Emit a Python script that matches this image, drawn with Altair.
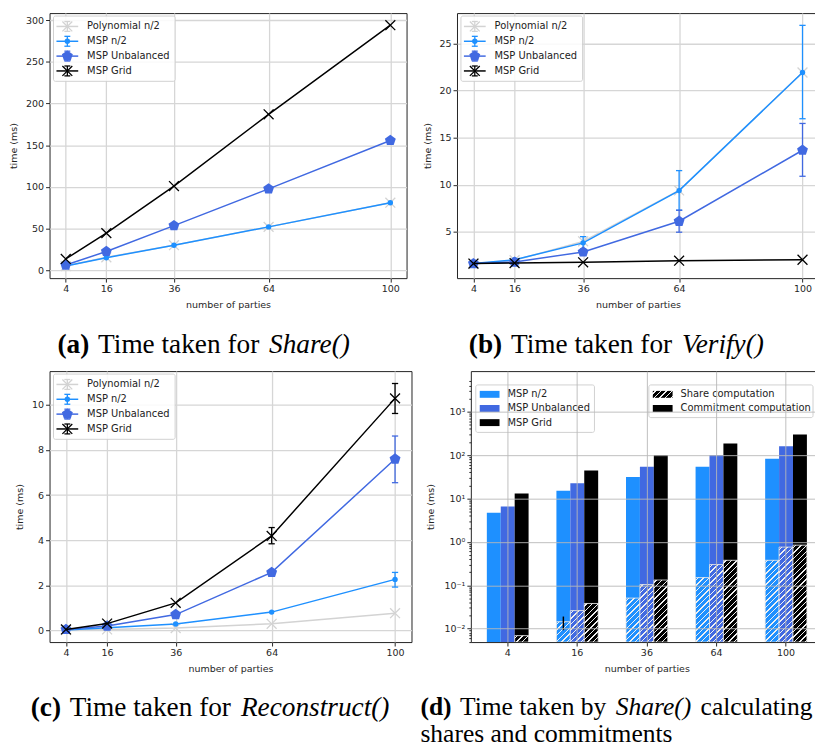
import math
import altair as alt
import pandas as pd

# ---------------- data ----------------
PARTIES = [4, 16, 36, 64, 100]
SERIES = ["Polynomial n/2", "MSP n/2", "MSP Unbalanced", "MSP Grid"]
COLORS = ["#d3d3d3", "#1e90ff", "#4169e1", "#000000"]

# (a) Share()
SHARE_POLY = [5.0, 15.5, 30.0, 52.0, 81.0]
SHARE_N2 = [5.0, 15.0, 30.0, 52.0, 81.0]
SHARE_UNB = [6.2, 22.5, 53.5, 97.6, 155.7]
SHARE_GRID = [13.5, 44.5, 101.0, 187.0, 294.0]

# (b) Verify()
VERIFY_POLY = [1.6, 2.0, 4.0, 9.4, 21.9]
VERIFY_N2 = [1.64, 2.05, 3.84, 9.38, 21.9]
VERIFY_N2_LO = [None, None, 3.2, 7.3, 17.0]
VERIFY_N2_HI = [None, None, 4.5, 11.5, 26.9]
VERIFY_UNB = [1.64, 1.8, 2.88, 6.13, 13.66]
VERIFY_UNB_LO = [None, None, None, 4.97, 10.9]
VERIFY_UNB_HI = [None, None, None, 7.3, 16.5]
VERIFY_GRID = [1.64, 1.7, 1.78, 1.95, 2.05]

# (c) Reconstruct()
RECON_POLY = [0.01, 0.04, 0.10, 0.29, 0.76]
RECON_N2 = [0.02, 0.12, 0.28, 0.81, 2.26]
RECON_N2_LO = [None, None, None, None, 1.92]
RECON_N2_HI = [None, None, None, None, 2.57]
RECON_UNB = [0.04, 0.19, 0.70, 2.57, 7.6]
RECON_UNB_LO = [None, None, None, None, 6.55]
RECON_UNB_HI = [None, None, None, None, 8.62]
RECON_GRID = [0.04, 0.30, 1.22, 4.19, 10.29]
RECON_GRID_LO = [None, None, None, 3.84, 9.62]
RECON_GRID_HI = [None, None, None, 4.56, 10.95]

# (d) Share(): total time and share-computation part
BAR_SERIES = ["MSP n/2", "MSP Unbalanced", "MSP Grid"]
BAR_COLORS = ["#1e90ff", "#4169e1", "#000000"]
TOTAL_N2 = [4.7, 15.0, 31.0, 54.0, 82.6]
TOTAL_UNB = [6.5, 22.4, 54.0, 100.0, 160.0]
TOTAL_GRID = [13.0, 44.0, 100.0, 184.0, 296.0]
SHARECOMP_N2 = [0.003, 0.0144, 0.0506, 0.15, 0.376]
SHARECOMP_UNB = [0.004, 0.026, 0.1035, 0.30, 0.757]
SHARECOMP_GRID = [0.0069, 0.038, 0.132, 0.376, 0.84]
SHARECOMP_N2_ERR_AT16 = [0.0092, 0.019]

LOG_DECADES = [0.01, 0.1, 1, 10, 100, 1000]
DECADE_LABELS = ["10⁻²", "10⁻¹", "10⁰", "10¹", "10²", "10³"]

# ---------------- style helpers ----------------
XPATH = "M-1,-1L1,1M-1,1L1,-1"
PENTA = "M0,-1L0.951,-0.309L0.588,0.809L-0.588,0.809L-0.951,-0.309Z"
CAP = "M-1,0L1,0"
MARKERS = [
    dict(shape=XPATH, filled=False, size=100, strokeWidth=1.3),
    dict(shape="circle", filled=True, size=30),
    dict(shape=PENTA, filled=True, size=134),
    dict(shape=XPATH, filled=False, size=100, strokeWidth=1.3),
]
ONE = pd.DataFrame({"k": [0]})

TIMES_R = {" ": 250, "(": 333, ")": 333, "a": 444, "b": 500, "c": 444, "d": 500, "e": 444,
           "f": 333, "g": 500, "h": 500, "i": 278, "k": 500, "l": 278, "m": 778, "n": 500,
           "o": 500, "r": 333, "s": 389, "t": 278, "u": 500, "y": 500, "T": 611}
TIMES_B = {"(": 333, ")": 333, "a": 500, "b": 556, "c": 444, "d": 556}
TIMES_I = {"(": 333, ")": 333, "S": 500, "V": 611, "R": 611, "a": 500, "c": 444, "e": 444,
           "f": 278, "h": 500, "i": 278, "n": 500, "o": 500, "r": 389, "s": 389, "t": 278,
           "u": 500, "y": 444}
CAP_FONT = "Liberation Serif"
SEG_GAP = 2.0


def text_w(txt, style, size):
    tab = {"b": TIMES_B, "i": TIMES_I, "r": TIMES_R}[style]
    return sum(tab.get(ch, 500) for ch in txt) * size / 1000.0


def caption_layers(lines, x0, y0, size=27.6, line_h=28):
    out = []
    for li, segs in enumerate(lines):
        x = x0
        for txt, style in segs:
            kw = dict(font=CAP_FONT, fontSize=size, align="left", baseline="alphabetic",
                      color="#000000")
            if style == "b":
                kw["fontWeight"] = "bold"
            if style == "i":
                kw["fontStyle"] = "italic"
            out.append(alt.Chart(ONE).mark_text(**kw).encode(
                x=alt.value(round(x, 1)), y=alt.value(y0 + li * line_h), text=alt.value(txt)))
            x += text_w(txt, style, size) + TIMES_R[" "] * size / 1000.0 + SEG_GAP
    return out


def line_legend():
    out = [alt.Chart(ONE).mark_rect(fill="white", stroke="#cccccc", strokeWidth=1,
                                    cornerRadius=2, opacity=0.9).encode(
        x=alt.value(4), x2=alt.value(127), y=alt.value(3), y2=alt.value(69))]
    for i, (s, col, mk) in enumerate(zip(SERIES, COLORS, MARKERS)):
        yc = 13.5 + 15 * i
        out.append(alt.Chart(ONE).mark_rule(color=col, strokeWidth=1.5).encode(
            x=alt.value(7), x2=alt.value(29), y=alt.value(yc)))
        out.append(alt.Chart(ONE).mark_rule(color=col, strokeWidth=1.3).encode(
            x=alt.value(18), y=alt.value(yc - 5), y2=alt.value(yc + 5)))
        for dy in (-5, 5):
            out.append(alt.Chart(ONE).mark_point(shape=CAP, filled=False, size=36, color=col,
                                                 strokeWidth=1.3, opacity=1).encode(
                x=alt.value(18), y=alt.value(yc + dy)))
        out.append(alt.Chart(ONE).mark_point(color=col, opacity=1, **mk).encode(
            x=alt.value(18), y=alt.value(yc)))
        out.append(alt.Chart(ONE).mark_text(align="left", baseline="middle", fontSize=10,
                                            font="DejaVu Sans", color="#222").encode(
            x=alt.value(38), y=alt.value(yc), text=alt.value(s)))
    return out


def line_panel(data, ydomain, yvalues, w, h, caption, cap_x, cap_y, ext):
    rows = []
    for s in SERIES:
        vals, lo, hi = data[s]
        for i, p in enumerate(PARTIES):
            rows.append({"series": s, "parties": p, "time": vals[i],
                         "lo": lo[i] if lo else None, "hi": hi[i] if hi else None})
    df = pd.DataFrame(rows)
    xs = alt.Scale(domain=[-0.8, 104.8], nice=False, zero=False)
    ys = alt.Scale(domain=ydomain, nice=False, zero=False)
    xa = alt.Axis(values=PARTIES, title="number of parties", grid=True, labelFlush=False)
    ya = alt.Axis(values=yvalues, title="time (ms)", grid=True, labelFlush=False,
                  minExtent=ext, maxExtent=ext)

    def X(f):
        return alt.X(f, type="quantitative", scale=xs, axis=xa)

    def Y(f):
        return alt.Y(f, type="quantitative", scale=ys, axis=ya)

    base = alt.Chart(df)
    layers = []
    for s, col, mk in zip(SERIES, COLORS, MARKERS):
        sub = base.transform_filter(alt.datum.series == s)
        layers.append(sub.mark_line(color=col, strokeWidth=1.5, clip=True).encode(
            x=X("parties"), y=Y("time")))
        e = sub.transform_filter("isValid(datum.lo)")
        layers.append(e.mark_rule(color=col, strokeWidth=1.3).encode(
            x=X("parties"), y=Y("lo"), y2="hi:Q"))
        for f in ("lo", "hi"):
            layers.append(e.mark_point(shape=CAP, filled=False, size=40, color=col,
                                       strokeWidth=1.3, opacity=1).encode(
                x=X("parties"), y=Y(f)))
        layers.append(sub.mark_point(color=col, opacity=1, **mk).encode(
            x=X("parties"), y=Y("time")))
    layers += line_legend()
    layers += caption_layers(caption, cap_x, cap_y)
    return alt.layer(*layers).properties(width=w, height=h)


def hatch_fill(base, W, H, period=4.0, lw=1.0, hatch="#f0f0f0"):
    c = (W + H) / (W * W + H * H)
    x2, y2 = W * c, H * c
    step = period * math.sqrt(2) / (W + H)
    hw = lw / 2 * math.sqrt(2) / (W + H)
    stops = [{"offset": 0, "color": base}]
    k = 0
    while True:
        ctr = (k + 0.5) * step
        a, b = ctr - hw, ctr + hw
        if b >= 1:
            break
        a, b = round(a, 5), round(b, 5)
        stops += [{"offset": a, "color": base}, {"offset": a, "color": hatch},
                  {"offset": b, "color": hatch}, {"offset": b, "color": base}]
        k += 1
    stops.append({"offset": 1, "color": base})
    return {"gradient": "linear", "x1": 0, "y1": 0, "x2": x2, "y2": y2, "stops": stops}


# ---------------- panels a, b, c ----------------
pa = line_panel({SERIES[0]: (SHARE_POLY, None, None), SERIES[1]: (SHARE_N2, None, None),
                 SERIES[2]: (SHARE_UNB, None, None), SERIES[3]: (SHARE_GRID, None, None)},
                [-9.5, 308.5], [0, 50, 100, 150, 200, 250, 300], 361, 268,
                [[("(a)", "b"), ("Time taken for", "r"), ("Share()", "i")]], 8, 344, 25)

pb = line_panel({SERIES[0]: (VERIFY_POLY, None, None),
                 SERIES[1]: (VERIFY_N2, VERIFY_N2_LO, VERIFY_N2_HI),
                 SERIES[2]: (VERIFY_UNB, VERIFY_UNB_LO, VERIFY_UNB_HI),
                 SERIES[3]: (VERIFY_GRID, None, None)},
                [0.1, 28.2], [5, 10, 15, 20, 25], 366, 268,
                [[("(b)", "b"), ("Time taken for", "r"), ("Verify()", "i")]], 12, 344, 19)

pc = line_panel({SERIES[0]: (RECON_POLY, None, None),
                 SERIES[1]: (RECON_N2, RECON_N2_LO, RECON_N2_HI),
                 SERIES[2]: (RECON_UNB, RECON_UNB_LO, RECON_UNB_HI),
                 SERIES[3]: (RECON_GRID, RECON_GRID_LO, RECON_GRID_HI)},
                [-0.52, 11.5], [0, 2, 4, 6, 8, 10], 366, 274,
                [[("(c)", "b"), ("Time taken for", "r"), ("Reconstruct()", "i")]], -19, 349, 19)

# ---------------- panel d ----------------
D_W, D_H = 356, 274
D_YMIN, D_YMAX = 0.0049, 8600
D_TOP = 10  # legend offset from the frame top
PAD_IN, PAD_OUT = 0.4, 0.23
d_step = D_W / (len(PARTIES) - PAD_IN + 2 * PAD_OUT)
BAR_W = d_step * (1 - PAD_IN) / 3

tick_vals = []
for dec in [0.001] + LOG_DECADES:
    for m in range(2, 10):
        v = dec * m
        if D_YMIN <= v <= 5000:
            tick_vals.append(v)
tick_vals = sorted(tick_vals + LOG_DECADES)
dec_test = "abs(log(datum.value)/LN10 - round(log(datum.value)/LN10)) < 1e-6"
label_expr = " : ".join(
    f"abs(log(datum.value)/LN10 - ({int(round(math.log10(d)))})) < 1e-6 ? '{lab}'"
    for d, lab in zip(LOG_DECADES, DECADE_LABELS)) + " : ''"

dxs = alt.Scale(domain=PARTIES, paddingInner=PAD_IN, paddingOuter=PAD_OUT)
dys = alt.Scale(type="log", domain=[D_YMIN, D_YMAX], nice=False)
dxa = alt.Axis(title="number of parties", labelAngle=0, bandPosition=0.5, grid=True, zindex=1,
               gridColor="#b8b8b8", gridWidth=0.9)
dya = alt.Axis(values=tick_vals, labelExpr=label_expr, labelOverlap=False, labelFlush=False,
               title="time (ms)", zindex=1, gridColor="#b8b8b8", gridWidth=0.9,
               minExtent=30, maxExtent=30,
               tickSize={"condition": {"test": dec_test, "value": 4}, "value": 2},
               gridOpacity={"condition": {"test": dec_test, "value": 1}, "value": 0})


def DX():
    return alt.X("parties:O", scale=dxs, axis=dxa)


def DXO():
    return alt.XOffset("series:N", scale=alt.Scale(domain=BAR_SERIES))


def DY(f):
    return alt.Y(f, type="quantitative", scale=dys, axis=dya)


totals = {BAR_SERIES[0]: TOTAL_N2, BAR_SERIES[1]: TOTAL_UNB, BAR_SERIES[2]: TOTAL_GRID}
shares = {BAR_SERIES[0]: SHARECOMP_N2, BAR_SERIES[1]: SHARECOMP_UNB, BAR_SERIES[2]: SHARECOMP_GRID}
bar_rows = []
for s in BAR_SERIES:
    for i, p in enumerate(PARTIES):
        bar_rows.append({"series": s, "parties": p, "total": totals[s][i], "share": shares[s][i]})
bars = pd.DataFrame(bar_rows)

d_layers = [alt.Chart(bars).mark_bar(clip=True).encode(
    x=DX(), xOffset=DXO(), y=DY("total"), y2="share:Q",
    color=alt.Color("series:N", scale=alt.Scale(domain=BAR_SERIES, range=BAR_COLORS), legend=None))]

lmin, lmax = math.log10(D_YMIN), math.log10(D_YMAX)
for s, col in zip(BAR_SERIES, BAR_COLORS):
    for i, p in enumerate(PARTIES):
        v = shares[s][i]
        if v <= D_YMIN:
            continue
        hpx = D_H * (math.log10(v) - lmin) / (lmax - lmin)
        d_layers.append(alt.Chart(pd.DataFrame([{"series": s, "parties": p, "share": v}]))
                        .mark_bar(fill=hatch_fill(col, BAR_W, hpx), stroke="#e6e6e6",
                                  strokeWidth=0.8, clip=True)
                        .encode(x=DX(), xOffset=DXO(), y=DY("share"), y2=alt.datum(D_YMIN)))

err16 = pd.DataFrame([{"series": BAR_SERIES[0], "parties": 16,
                       "lo": SHARECOMP_N2_ERR_AT16[0], "hi": SHARECOMP_N2_ERR_AT16[1]}])
d_layers.append(alt.Chart(err16).mark_rule(color="black", strokeWidth=1.5).encode(
    x=DX(), xOffset=DXO(), y=DY("lo"), y2="hi:Q"))

# legends of panel d
d_layers.append(alt.Chart(ONE).mark_rect(fill="white", stroke="#cccccc", strokeWidth=1,
                                         cornerRadius=2, opacity=0.9).encode(
    x=alt.value(5), x2=alt.value(125), y=alt.value(D_TOP + 4), y2=alt.value(D_TOP + 52)))
for i, (s, col) in enumerate(zip(BAR_SERIES, BAR_COLORS)):
    yc = D_TOP + 13.5 + 14.3 * i
    d_layers.append(alt.Chart(ONE).mark_rect(fill=col).encode(
        x=alt.value(9), x2=alt.value(29), y=alt.value(yc - 3.5), y2=alt.value(yc + 3.5)))
    d_layers.append(alt.Chart(ONE).mark_text(align="left", baseline="middle", fontSize=10,
                                             font="DejaVu Sans", color="#222").encode(
        x=alt.value(37), y=alt.value(yc), text=alt.value(s)))
LG2 = 180
d_layers.append(alt.Chart(ONE).mark_rect(fill="white", stroke="#cccccc", strokeWidth=1,
                                         cornerRadius=2, opacity=0.9).encode(
    x=alt.value(LG2), x2=alt.value(LG2 + 166), y=alt.value(D_TOP + 4), y2=alt.value(D_TOP + 37)))
PART_NAMES = ["Share computation", "Commitment computation"]
for i, name in enumerate(PART_NAMES):
    yc = D_TOP + 13.5 + 14.3 * i
    fill = hatch_fill("#000000", 20, 7) if i == 0 else "#000000"
    d_layers.append(alt.Chart(ONE).mark_rect(fill=fill).encode(
        x=alt.value(LG2 + 4), x2=alt.value(LG2 + 24), y=alt.value(yc - 3.5), y2=alt.value(yc + 3.5)))
    d_layers.append(alt.Chart(ONE).mark_text(align="left", baseline="middle", fontSize=10,
                                             font="DejaVu Sans", color="#222").encode(
        x=alt.value(LG2 + 32), y=alt.value(yc), text=alt.value(name)))

d_layers += caption_layers([[("(d)", "b"), ("Time taken by", "r"), ("Share()", "i"),
                             ("calculating", "r")],
                            [("shares and commitments", "r")]], -51, 348, size=25.8,
                           line_h=27)

pd_ = alt.layer(*d_layers).properties(width=D_W, height=D_H)

top = alt.hconcat(pa, pb, spacing=14)
bottom = alt.hconcat(pc, pd_, spacing=7)
chart = alt.vconcat(top, bottom, spacing=10).properties(
    padding={"left": 0, "top": 0, "right": -9, "bottom": 0}
).configure_view(
    stroke="#222222", strokeWidth=1
).configure_axis(
    labelFont="DejaVu Sans", titleFont="DejaVu Sans", labelFontSize=9.6, titleFontSize=9.6,
    titleFontWeight="normal", labelColor="#262626", titleColor="#262626", tickColor="#262626",
    tickSize=4, labelPadding=2, titlePadding=6, domain=False, gridColor="#d6d6d6", gridWidth=1.3
)

chart.save("out.html", embed_options={"renderer": "svg", "actions": False})
